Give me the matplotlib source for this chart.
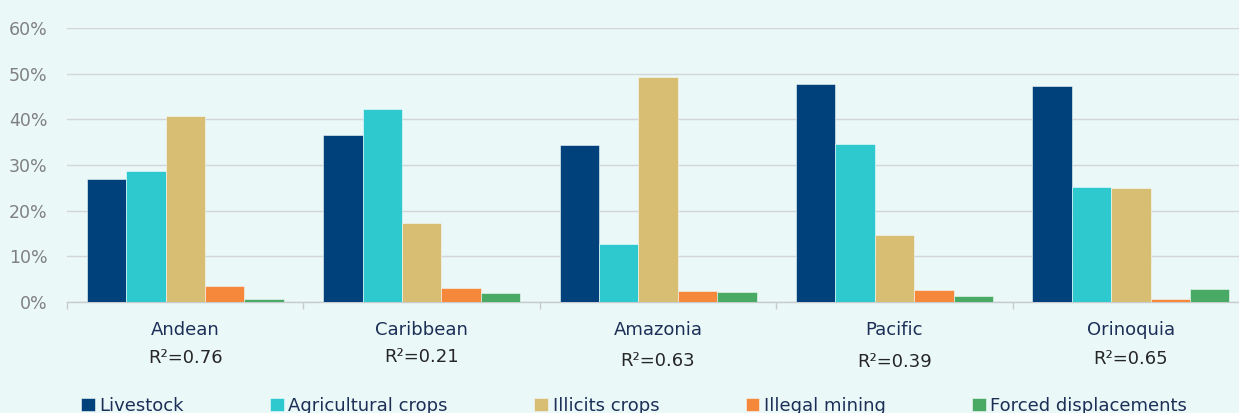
import numpy as np
import matplotlib.pyplot as plt
from matplotlib.ticker import PercentFormatter, FixedLocator

# Share of deforestation explained by each driver, per region
regions = ["Andean", "Caribbean", "Amazonia", "Pacific", "Orinoquia"]
r_squared = ["0.76", "0.21", "0.63", "0.39", "0.65"]

drivers = ["Livestock", "Agricultural crops", "Illicits crops",
           "Illegal mining", "Forced displacements"]
livestock = [27.0, 36.5, 34.3, 47.7, 47.4]
agricultural = [28.7, 42.2, 12.7, 34.7, 25.1]
illicit = [40.7, 17.3, 49.3, 14.6, 24.9]
mining = [3.6, 3.0, 2.4, 2.6, 0.6]
displacement = [0.6, 2.0, 2.2, 1.3, 2.8]
series = [livestock, agricultural, illicit, mining, displacement]

colors = ["#00407B", "#2EC9CF", "#D8BE73", "#F5883A", "#49AA66"]
bg = "#EAF8F8"
navy = "#1C2F57"

# vertical position of the R² notes (data units, below the axis)
r2_y = [-0.123, -0.121, -0.130, -0.131, -0.125]

fig = plt.figure(figsize=(12.39, 4.13), dpi=100, facecolor=bg)
ax = fig.add_axes([0.0541, 0.2688, 0.954, 0.6634], facecolor=bg)

x = np.arange(len(regions))
width = 1 / 6
for i, (vals, name, c) in enumerate(zip(series, drivers, colors)):
    ax.bar(x + (i - 2) * width, np.array(vals) / 100, width, color=c,
           edgecolor="#F4FBFB", linewidth=0.4, label=name, zorder=3)

ax.set_xlim(-0.5, len(regions) - 0.5)
ax.set_ylim(0, 0.6)
ax.yaxis.set_major_locator(FixedLocator(np.arange(0, 0.61, 0.1)))
ax.yaxis.set_major_formatter(PercentFormatter(1.0, decimals=0))
ax.grid(axis="y", color="#D3D6D8", linewidth=1.0, zorder=0)

for s in ["top", "right", "left"]:
    ax.spines[s].set_visible(False)
ax.spines["bottom"].set_color("#C8CBCD")
ax.spines["bottom"].set_linewidth(1.0)

ax.set_xticks(x)
ax.set_xticklabels(regions, fontsize=13, color=navy)
ax.set_xticks(np.arange(-0.5, len(regions), 1), minor=True)
ax.tick_params(axis="x", which="major", length=0, pad=14)
ax.tick_params(axis="x", which="minor", length=5, color="#C8CBCD", width=1)
ax.tick_params(axis="y", length=0, pad=14, labelsize=12.5, labelcolor="#808080")

for xi, r2, yy in zip(x, r_squared, r2_y):
    ax.text(xi, yy, f"R²={r2}", ha="center", va="center", fontsize=13,
            color="#262626", clip_on=False)

fig.legend(loc="center left", bbox_to_anchor=(0.0654, 0.017), ncol=5,
           frameon=False, fontsize=13, labelcolor=navy, borderpad=0,
           borderaxespad=0, handlelength=0.75, handleheight=0.75,
           handletextpad=0.25, columnspacing=4.8)

plt.savefig("out.png", dpi=100, facecolor=bg)
plt.close()
